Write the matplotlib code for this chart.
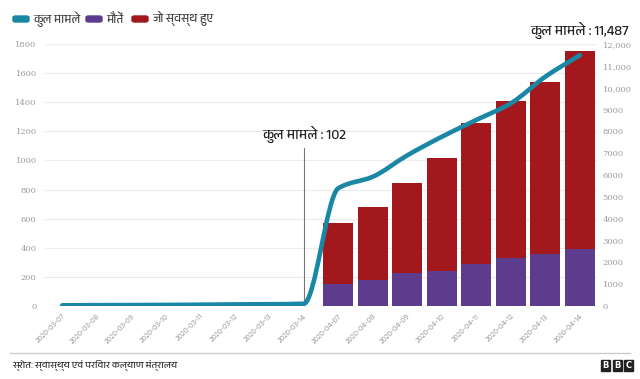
import numpy as np
import matplotlib
matplotlib.use("Agg")
import matplotlib.pyplot as plt
from matplotlib import font_manager
from matplotlib.ft2font import FT2Font
from matplotlib.path import Path
from matplotlib.patches import PathPatch, FancyBboxPatch, Rectangle

# data
dates = ["2020-03-07", "2020-03-08", "2020-03-09", "2020-03-10",
         "2020-03-11", "2020-03-12", "2020-03-13", "2020-03-14",
         "2020-04-07", "2020-04-08", "2020-04-09", "2020-04-10",
         "2020-04-11", "2020-04-12", "2020-04-13", "2020-04-14"]
total_cases = [31, 39, 43, 50, 60, 73, 82, 102,
               5390, 5920, 6900, 7750, 8520, 9280, 10500, 11487]
deaths = [0, 0, 0, 0, 0, 0, 0, 0,
          149, 179, 225, 243, 286, 328, 355, 389]
recovered = [0, 0, 0, 0, 0, 0, 0, 0,
             419, 503, 618, 776, 971, 1083, 1184, 1363]
left_ticks = list(range(0, 2000, 200))
right_ticks = list(range(0, 13000, 1000))

TEAL = "#1a87a5"
PURPLE = "#5d3c8e"
RED = "#a3181c"


def find_deva_font():
    # look for any installed font that has Devanagari glyphs
    found = []
    for f in font_manager.fontManager.ttflist:
        try:
            cm = FT2Font(f.fname).get_charmap()
        except Exception:
            continue
        if 0x0915 in cm and 0x093E in cm:
            found.append(f.name)
    found.sort(key=lambda n: (0 if "Devanagari" in n else 1, n))
    return found[0] if found else None


deva = find_deva_font()
fam = [deva, "DejaVu Sans"] if deva else ["DejaVu Sans"]
plt.rcParams["font.family"] = fam

fig = plt.figure(figsize=(6.4, 3.79), dpi=100)
ax = fig.add_axes([0.0703, 0.1926, 0.8625, 0.6913])
ax2 = ax.twinx()

x = np.arange(len(dates))
has_bar = np.array(deaths) > 0
ax.bar(x[has_bar], np.array(deaths)[has_bar], width=0.88, color=PURPLE, zorder=2)
ax.bar(x[has_bar], np.array(recovered)[has_bar], width=0.88,
       bottom=np.array(deaths)[has_bar], color=RED, zorder=2)

ax.set_xlim(-0.5, 15.5)
ax.set_ylim(0, 1800)
ax2.set_ylim(0, 12000)
ax.set_yticks(left_ticks)
ax2.set_yticks(right_ticks)
ax2.set_yticklabels([f"{v:,}" if v >= 10000 else str(v) for v in right_ticks])

for a in (ax, ax2):
    for s in a.spines.values():
        s.set_visible(False)
ax.grid(axis="y", color="#ececec", lw=0.8, zorder=0)
ax.set_axisbelow(True)
ax.axhline(0, color="#bbbbbb", lw=0.8, zorder=1)

ax.tick_params(axis="y", length=0, pad=6, labelsize=6, labelcolor="#9a9a9a")
ax2.tick_params(axis="y", length=0, pad=4, labelsize=6, labelcolor="#9a9a9a")
ax.set_xticks(x)
ax.set_xticklabels(dates, rotation=45, ha="right", rotation_mode="anchor",
                   fontsize=5.5, color="#aaaaaa")
ax.tick_params(axis="x", length=0, pad=5)
for lab in ax.get_yticklabels() + ax2.get_yticklabels():
    lab.set_family("DejaVu Serif")

# smooth line for total cases (monotone cubic Bezier through the points)
y = np.array(total_cases, dtype=float)
d = np.diff(y)
m = np.zeros_like(y)
m[0], m[-1] = d[0], d[-1]
for i in range(1, len(y) - 1):
    if d[i - 1] * d[i] > 0:
        m[i] = 2.0 / (1.0 / d[i - 1] + 1.0 / d[i])
verts = [(x[0], y[0])]
codes = [Path.MOVETO]
for i in range(len(y) - 1):
    verts += [(x[i] + 1 / 3, y[i] + m[i] / 3),
              (x[i + 1] - 1 / 3, y[i + 1] - m[i + 1] / 3),
              (x[i + 1], y[i + 1])]
    codes += [Path.CURVE4] * 3
ax2.add_patch(PathPatch(Path(verts, codes), fill=False, edgecolor=TEAL,
                        lw=3.3, capstyle="round", joinstyle="round", zorder=5))

# annotations
ax2.plot([7, 7], [0, 7250], color="#777777", lw=0.8, zorder=4)
ax2.text(7, 7450, "कुल मामले : 102", ha="center", va="bottom",
         fontsize=10, color="#222222")
ax2.text(15, 12250, "कुल मामले : 11,487", ha="center", va="bottom",
         fontsize=10, color="#222222", clip_on=False)

# legend
legend_items = [("कुल मामले", TEAL, 13), ("मौतें", PURPLE, 86), ("जो स्वस्थ हुए", RED, 132)]
for label, col, px in legend_items:
    fig.patches.append(FancyBboxPatch((px / 640, 1 - 22 / 379), 16 / 640, 6 / 379,
                                      boxstyle="round,pad=0,rounding_size=0.004",
                                      transform=fig.transFigure, color=col))
    fig.text((px + 20) / 640, 1 - 19 / 379, label, ha="left", va="center",
             fontsize=8.5, color="#444444")

# footer
fig.add_artist(plt.Line2D([10 / 640, 630 / 640], [1 - 353 / 379] * 2,
                          transform=fig.transFigure, color="#cccccc", lw=1))
fig.text(12 / 640, 1 - 365 / 379, "स्रोत: स्वास्थ्य एवं परिवार कल्याण मंत्रालय",
         ha="left", va="center", fontsize=7, color="#333333")
for i, ch in enumerate("BBC"):
    x0 = (601 + i * 11.5) / 640
    fig.patches.append(Rectangle((x0, 1 - 371 / 379), 9 / 640, 11 / 379,
                                 transform=fig.transFigure, color="#222222"))
    fig.text(x0 + 4.5 / 640, 1 - 365.5 / 379, ch, ha="center", va="center",
             fontsize=6, color="white", fontweight="bold", family="DejaVu Sans")

fig.savefig("out.png", dpi=100)
